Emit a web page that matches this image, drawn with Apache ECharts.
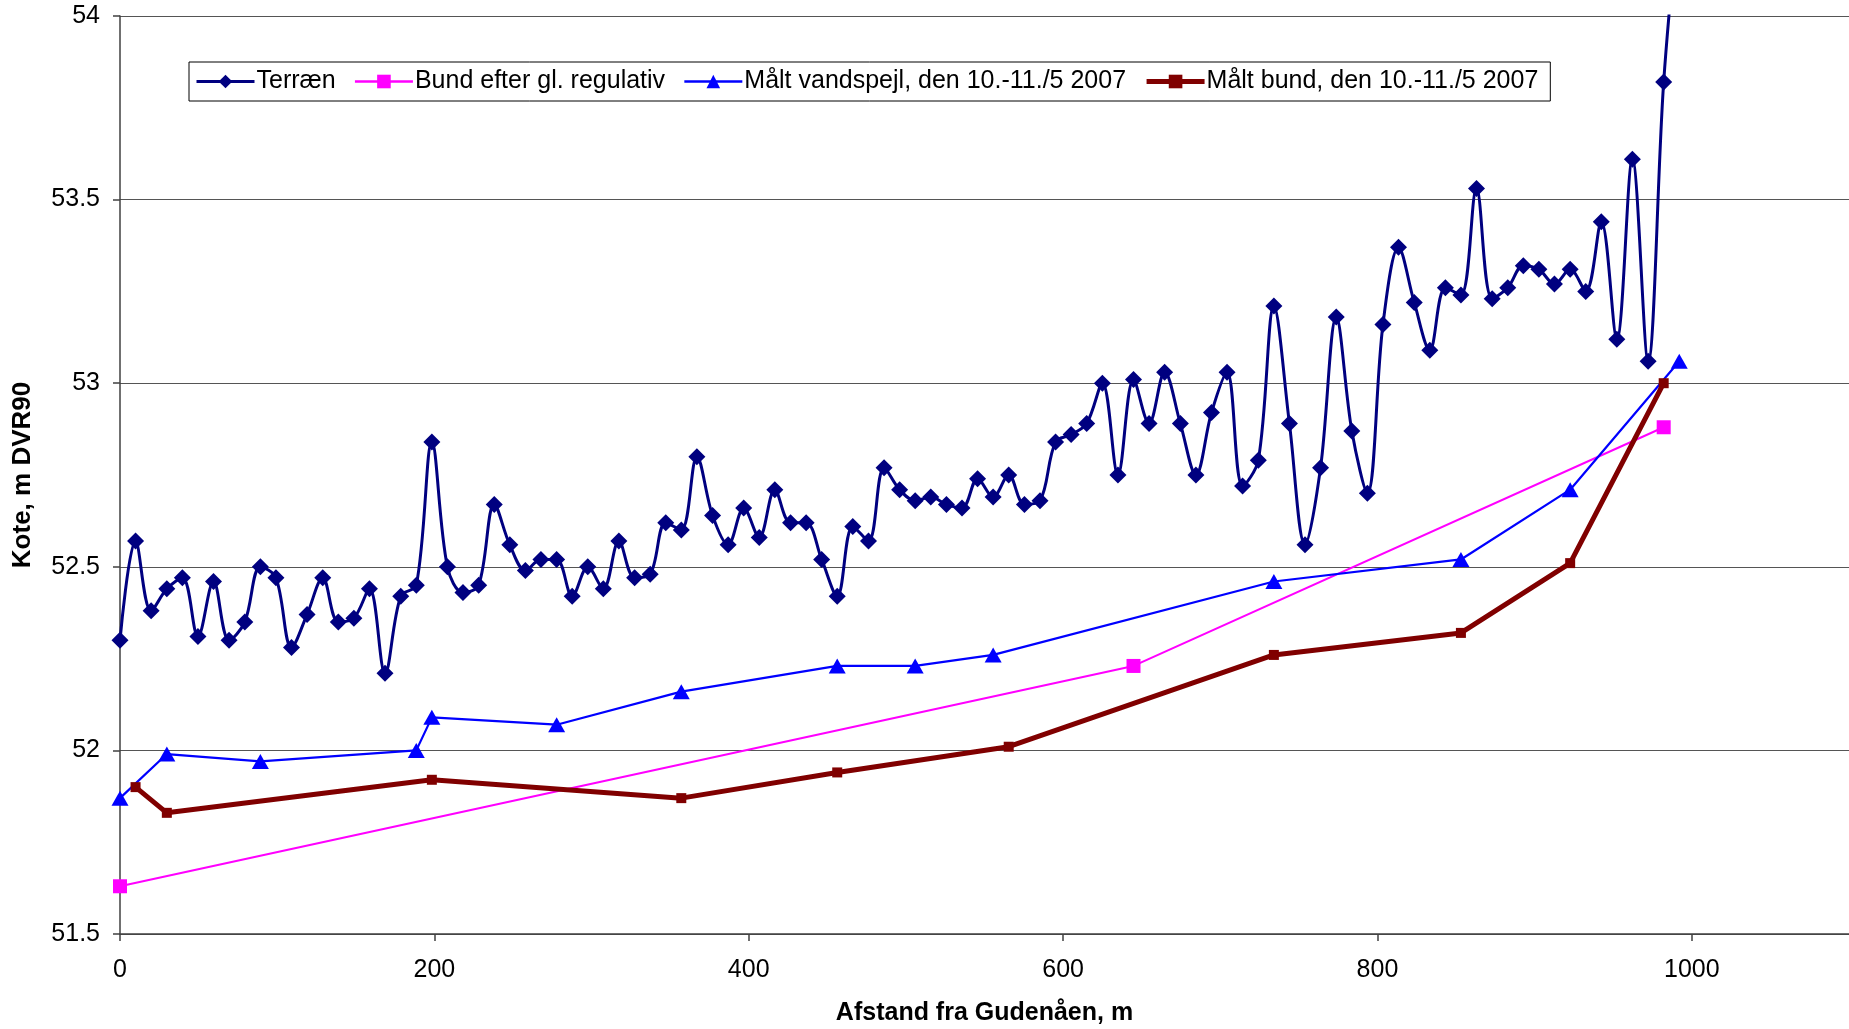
<!DOCTYPE html>
<html>
<head>
<meta charset="utf-8">
<script src="https://cdn.jsdelivr.net/npm/echarts@6/dist/echarts.min.js"></script>
<style>
html,body{margin:0;padding:0;background:#fff;}
#chart{width:1849px;height:1029px;}
</style>
</head>
<body>
<div id="chart"></div>
<script>
// Terræn stations (m) and levels (m DVR90)
const terraenDist = [0, 9.9, 19.8, 29.8, 39.7, 49.6, 59.5, 69.4, 79.4, 89.3,
  99.2, 109.1, 119.0, 129.0, 138.9, 148.8, 158.7, 168.6, 178.6, 188.5,
  198.4, 208.3, 218.2, 228.2, 238.1, 248.0, 257.9, 267.8, 277.8, 287.7,
  297.6, 307.5, 317.4, 327.4, 337.3, 347.2, 357.1, 367.0, 377.0, 386.9,
  396.8, 406.7, 416.6, 426.6, 436.5, 446.4, 456.3, 466.2, 476.2, 486.1,
  496.0, 505.9, 515.8, 525.8, 535.7, 545.6, 555.5, 565.4, 575.4, 585.3,
  595.2, 605.1, 615.0, 625.0, 634.9, 644.8, 654.7, 664.6, 674.6, 684.5,
  694.4, 704.3, 714.2, 724.2, 734.1, 744.0, 753.9, 763.8, 773.8, 783.7,
  793.6, 803.5, 813.4, 823.4, 833.3, 843.2, 853.1, 863.0, 873.0, 882.9,
  892.8, 902.7, 912.6, 922.6, 932.5, 942.4, 952.3, 962.2, 972.2, 982.1, 992.0];
const terraenLevel = [52.30, 52.57, 52.38, 52.44, 52.47, 52.31, 52.46, 52.30, 52.35, 52.50,
  52.47, 52.28, 52.37, 52.47, 52.35, 52.36, 52.44, 52.21, 52.42, 52.45,
  52.84, 52.50, 52.43, 52.45, 52.67, 52.56, 52.49, 52.52, 52.52, 52.42,
  52.50, 52.44, 52.57, 52.47, 52.48, 52.62, 52.60, 52.80, 52.64, 52.56,
  52.66, 52.58, 52.71, 52.62, 52.62, 52.52, 52.42, 52.61, 52.57, 52.77,
  52.71, 52.68, 52.69, 52.67, 52.66, 52.74, 52.69, 52.75, 52.67, 52.68,
  52.84, 52.86, 52.89, 53.00, 52.75, 53.01, 52.89, 53.03, 52.89, 52.75,
  52.92, 53.03, 52.72, 52.79, 53.21, 52.89, 52.56, 52.77, 53.18, 52.87,
  52.70, 53.16, 53.37, 53.22, 53.09, 53.26, 53.24, 53.53, 53.23, 53.26,
  53.32, 53.31, 53.27, 53.31, 53.25, 53.44, 53.12, 53.61, 53.06, 53.82, 54.30];

// Bund efter gl. regulativ
const regulativDist = [0, 644.8, 982.1];
const regulativLevel = [51.63, 52.23, 52.88];

// Målt vandspejl, den 10.-11./5 2007
const vandspejlDist = [0, 29.8, 89.3, 188.5, 198.4, 277.8, 357.1, 456.3, 505.9, 555.5, 734.1, 853.1, 922.6, 992.0];
const vandspejlLevel = [51.87, 51.99, 51.97, 52.00, 52.09, 52.07, 52.16, 52.23, 52.23, 52.26, 52.46, 52.52, 52.71, 53.06];

// Målt bund, den 10.-11./5 2007
const bundDist = [9.9, 29.8, 198.4, 357.1, 456.3, 565.4, 734.1, 853.1, 922.6, 982.1];
const bundLevel = [51.90, 51.83, 51.92, 51.87, 51.94, 52.01, 52.26, 52.32, 52.51, 53.00];

const seriesNames = ['Terræn', 'Bund efter gl. regulativ', 'Målt vandspejl, den 10.-11./5 2007', 'Målt bund, den 10.-11./5 2007'];
const xAxisTitle = 'Afstand fra Gudenåen, m';
const yAxisTitle = 'Kote, m DVR90';

const pair = (xs, ys) => xs.map((x, i) => [x, ys[i]]);
const FONT = '"Liberation Sans", Arial, sans-serif';
const lineWidths = [3, 2.5, 2.5, 5];

const chart = echarts.init(document.getElementById('chart'), null, {renderer: 'canvas'});
chart.setOption({
  animation: false,
  backgroundColor: '#ffffff',
  textStyle: {fontFamily: FONT, color: '#000'},
  grid: {left: 120, right: 0, top: 16, bottom: 95, containLabel: false, outerBoundsMode: 'none'},
  legend: {
    left: 189, top: 62,
    orient: 'horizontal',
    padding: [7, 12, 7, 6],
    itemGap: 18,
    itemWidth: 58,
    itemHeight: 17,
    backgroundColor: '#fff',
    borderColor: '#000',
    borderWidth: 1,
    borderRadius: 0,
    textStyle: {fontFamily: FONT, fontSize: 25, color: '#000', padding: [0, 0, 0, -3]},
    data: seriesNames.map((n, i) => ({name: n, lineStyle: {width: lineWidths[i]}}))
  },
  xAxis: {
    type: 'value',
    min: 0, max: 1100, interval: 200,
    name: xAxisTitle,
    nameLocation: 'middle',
    nameGap: 67,
    nameTextStyle: {fontFamily: FONT, fontSize: 25, fontWeight: 'bold', color: '#000'},
    axisLine: {show: true, onZero: false, lineStyle: {color: '#404040', width: 1.5}},
    axisTick: {show: true, inside: false, length: 7, lineStyle: {color: '#404040', width: 1.5}},
    axisLabel: {fontFamily: FONT, fontSize: 25, color: '#000', margin: 24, showMaxLabel: false,
      formatter: v => String(v)},
    splitLine: {show: false}
  },
  yAxis: {
    type: 'value',
    min: 51.5, max: 54, interval: 0.5,
    name: yAxisTitle,
    nameLocation: 'middle',
    nameGap: 84,
    nameRotate: 90,
    nameTextStyle: {fontFamily: FONT, fontSize: 26, fontWeight: 'bold', color: '#000'},
    axisLine: {show: true, onZero: false, lineStyle: {color: '#404040', width: 1.5}},
    axisTick: {show: true, inside: false, length: 7, lineStyle: {color: '#404040', width: 1.5}},
    axisLabel: {fontFamily: FONT, fontSize: 25, color: '#000', margin: 20, formatter: v => String(v)},
    splitLine: {show: true, lineStyle: {color: '#555', width: 1.2}}
  },
  series: [
    {
      name: seriesNames[0], type: 'line',
      data: pair(terraenDist, terraenLevel),
      smooth: 0.35,
      clip: true,
      symbol: 'diamond', symbolSize: 17,
      itemStyle: {color: '#000080'},
      lineStyle: {color: '#000080', width: lineWidths[0]},
      z: 2
    },
    {
      name: seriesNames[1], type: 'line',
      data: pair(regulativDist, regulativLevel),
      clip: true,
      symbol: 'rect', symbolSize: 14,
      itemStyle: {color: '#FF00FF'},
      lineStyle: {color: '#FF00FF', width: 2},
      z: 3
    },
    {
      name: seriesNames[2], type: 'line',
      data: pair(vandspejlDist, vandspejlLevel),
      clip: true,
      symbol: 'triangle', symbolSize: [17, 15],
      itemStyle: {color: '#0000FF'},
      lineStyle: {color: '#0000FF', width: 2.2},
      z: 4
    },
    {
      name: seriesNames[3], type: 'line',
      data: pair(bundDist, bundLevel),
      clip: true,
      symbol: 'rect', symbolSize: 10,
      itemStyle: {color: '#800000'},
      lineStyle: {color: '#800000', width: lineWidths[3]},
      z: 5
    }
  ]
});
</script>
</body>
</html>
